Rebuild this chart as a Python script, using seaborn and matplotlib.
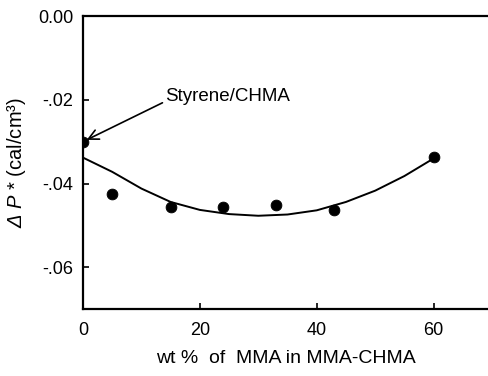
import matplotlib
matplotlib.use("Agg")
import matplotlib.pyplot as plt
import seaborn as sns
import pandas as pd

# measured data points
wt_mma = [0, 5, 15, 24, 33, 43, 60]
delta_p = [-0.030, -0.0425, -0.0457, -0.0457, -0.0452, -0.0464, -0.0336]

# fitted curve
curve_x = [0, 5, 10, 15, 20, 25, 30, 35, 40, 45, 50, 55, 60]
curve_y = [-0.0338, -0.0372, -0.0412, -0.0444, -0.0463, -0.0473, -0.0477,
           -0.0474, -0.0464, -0.0444, -0.0417, -0.0382, -0.0340]

x_ticks = [0, 20, 40, 60]
y_ticks = [0.00, -0.02, -0.04, -0.06]
y_tick_labels = ["0.00", "-.02", "-.04", "-.06"]

sns.set_style("ticks")
plt.rcParams['font.family'] = ['Liberation Sans', 'DejaVu Sans']
plt.rcParams['mathtext.fontset'] = 'custom'
plt.rcParams['mathtext.rm'] = 'Liberation Sans:italic'
plt.rcParams['mathtext.it'] = 'Liberation Sans:italic'
plt.rcParams['text.color'] = 'black'
plt.rcParams['axes.labelcolor'] = 'black'

pts = pd.DataFrame({"x": wt_mma, "y": delta_p})
crv = pd.DataFrame({"x": curve_x, "y": curve_y})

fig = plt.figure(figsize=(4.88, 3.76), dpi=100)
ax = fig.add_axes([0.170, 0.178, 0.830, 0.779])

sns.lineplot(data=crv, x="x", y="y", ax=ax, color="black", linewidth=1.4, sort=False)
sns.scatterplot(data=pts, x="x", y="y", ax=ax, color="black", s=60, edgecolor="black", zorder=3)

ax.set_xlim(0, 69.3)
ax.set_ylim(-0.07, 0.0)
ax.set_xticks(x_ticks)
ax.set_xticklabels([str(t) for t in x_ticks], fontsize=13)
ax.set_yticks(y_ticks)
ax.set_yticklabels(y_tick_labels, fontsize=13)
ax.tick_params(direction="in", length=4, width=1.2, colors="black", labelcolor="black")
ax.tick_params(axis="x", pad=9)
ax.tick_params(axis="y", pad=7)

for s in ["left", "bottom", "top"]:
    ax.spines[s].set_linewidth(1.6)
    ax.spines[s].set_color("black")
ax.spines["right"].set_visible(False)

ax.set_xlabel("wt %  of  MMA in MMA-CHMA", fontsize=14, labelpad=8, color="black")
ax.set_ylabel(r"$Δ\ P$ * (cal/cm³)", fontsize=14.5, labelpad=7, color="black")

# arrow from label to the first point
ax.annotate("", xy=(wt_mma[0], delta_p[0]), xytext=(13.6, -0.0207),
            arrowprops=dict(arrowstyle="->", color="black", lw=1.2,
                            shrinkA=0, shrinkB=3, mutation_scale=18))
ax.text(14.0, -0.0192, "Styrene/CHMA", fontsize=13.5, va="center", ha="left", color="black")

fig.savefig("out.png", dpi=100)
